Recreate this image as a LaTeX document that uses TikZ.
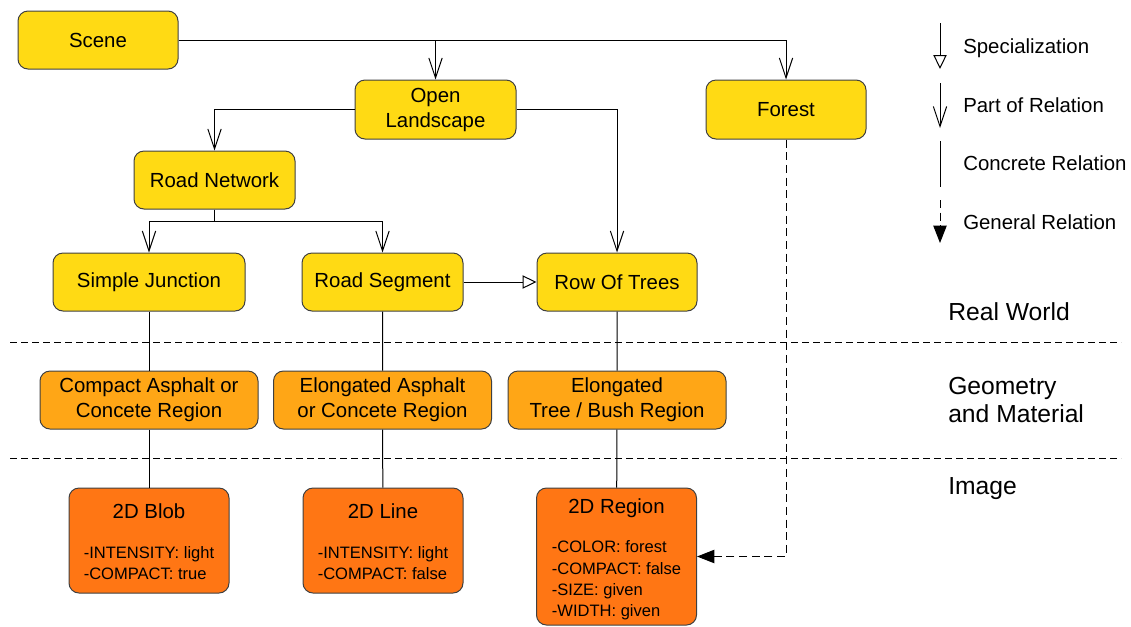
\documentclass[tikz,border=0pt]{standalone}
\usepackage{fontspec}
\setmainfont{Liberation Sans}
\usepackage{tikz}
\usetikzlibrary{arrows.meta}
\definecolor{realWorldColor}{RGB}{255,218,20}
\definecolor{geometryColor}{RGB}{255,166,22}
\definecolor{imageColor}{RGB}{255,118,20}
\newcommand{\boxFont}{\fontsize{15.3}{18.75}\selectfont}
\newcommand{\attrFont}{\fontsize{12.4}{15.8}\selectfont}
\newcommand{\layerFont}{\fontsize{18.5}{21}\selectfont}
\tikzstyle{diagram} = [x=0.75pt, y=-0.75pt]
\tikzstyle{boxStyle} = [draw=black!75, line width=.75pt, rounded corners=7.5pt, inner sep=0pt, align=center, font=\boxFont]
\tikzstyle{realWorldStyle} = [boxStyle, fill=realWorldColor, minimum height=43.5pt]
\tikzstyle{geometryStyle} = [boxStyle, fill=geometryColor, minimum width=163.5pt, minimum height=43.5pt]
\tikzstyle{imageStyle} = [boxStyle, fill=imageColor, minimum width=120pt, font=\attrFont]
\tikzstyle{relation} = [line width=.75pt]
\tikzstyle{partOfArrow} = [relation, -{Straight Barb[length=15pt, width=10pt]}]
\tikzstyle{specializationArrow} = [relation, -{Triangle[open, length=10.5pt, width=10pt]}]
\tikzstyle{concreteLine} = [relation]
\tikzstyle{generalArrow} = [relation, dash pattern=on 6pt off 3.5pt, -{Triangle[length=13pt, width=10pt]}]
\tikzstyle{layerLine} = [line width=.75pt, dash pattern=on 5.25pt off 3pt]
\tikzstyle{legendText} = [anchor=west, font=\boxFont, inner sep=0pt]
\tikzstyle{layerText} = [anchor=west, align=left, font=\layerFont, inner sep=0pt]
\newcommand{\imageText}[2]{\begin{tabular}{@{}l@{}}\multicolumn{1}{@{}c@{}}{\rule{0pt}{17pt}\boxFont #1}\\[14pt]#2\end{tabular}}

\begin{document}
\begin{tikzpicture}[diagram]
\useasboundingbox (0,0) rectangle (1131,626);
\draw[layerLine] (10,342) -- (1121,342);
\draw[layerLine] (10,458) -- (1121,458);
\node[realWorldStyle, minimum width=120pt] (scene) at (98,40) {Scene};
\node[realWorldStyle, minimum width=120.75pt, minimum height=44.25pt] (openLandscape) at (435.5,109.5) {Open\\Landscape};
\node[realWorldStyle, minimum width=120pt, minimum height=44.25pt] (forest) at (786,109.5) {Forest};
\node[realWorldStyle, minimum width=120.75pt] (roadNetwork) at (214.5,180) {Road Network};
\node[realWorldStyle, minimum width=144pt] (simpleJunction) at (149,282) {Simple Junction};
\node[realWorldStyle, minimum width=120.75pt] (roadSegment) at (382.5,282) {Road Segment};
\node[realWorldStyle, minimum width=120pt] (rowOfTrees) at (617,282) {Row Of Trees};
\node[geometryStyle] (compactRegion) at (149,400) {Compact Asphalt or\\Concete Region};
\node[geometryStyle] (elongatedRegion) at (382.5,400) {Elongated Asphalt\\or Concete Region};
\node[geometryStyle] (treeRegion) at (617,400) {Elongated\\Tree / Bush Region};
\node[imageStyle, minimum height=78.75pt] (blob) at (149,540.5) {\imageText{2D Blob}{-INTENSITY: light\\-COMPACT: true}};
\node[imageStyle, minimum height=78.75pt] (line) at (383,540.5) {\imageText{2D Line}{-INTENSITY: light\\-COMPACT: false}};
\node[imageStyle, minimum height=102.75pt] (region) at (616.5,556.5) {\imageText{2D Region}{-COLOR: forest\\-COMPACT: false\\-SIZE: given\\-WIDTH: given}};
\draw[partOfArrow] (scene.east) -| (forest.north);
\draw[partOfArrow] (scene.east) -| (openLandscape.north);
\draw[partOfArrow] (openLandscape.west) -| (roadNetwork.north);
\draw[partOfArrow] (openLandscape.east) -| (rowOfTrees.north);
\draw[partOfArrow] (roadNetwork.south) -- ++(0,12) -| (simpleJunction.north);
\draw[partOfArrow] (roadNetwork.south) -- ++(0,12) -| (roadSegment.north);
\draw[specializationArrow] (roadSegment.east) -- (rowOfTrees.west);
\draw[concreteLine] (simpleJunction) -- (compactRegion) -- (blob);
\draw[concreteLine] (roadSegment) -- (elongatedRegion) -- (line);
\draw[concreteLine] (rowOfTrees) -- (treeRegion) -- (region);
\draw[generalArrow] (forest.south) |- (region.east);
\coordinate (specTop) at (940,23);
\coordinate (specEnd) at (940,69);
\coordinate (partTop) at (940,83);
\coordinate (partEnd) at (940,128);
\coordinate (concreteTop) at (940,141);
\coordinate (concreteEnd) at (940,187);
\coordinate (generalTop) at (940,200);
\coordinate (generalEnd) at (940,243);
\draw[specializationArrow] (specTop) -- (specEnd);
\draw[partOfArrow] (partTop) -- (partEnd);
\draw[concreteLine] (concreteTop) -- (concreteEnd);
\draw[generalArrow] (generalTop) -- (generalEnd);
\node[legendText] (specLabel) at (963,48) {Specialization};
\node[legendText] (partLabel) at (963,105) {Part of Relation};
\node[legendText] (concreteLabel) at (963,163) {Concrete Relation};
\node[legendText] (generalLabel) at (963,222) {General Relation};
\node[layerText] (realWorldLabel) at (948,312) {Real World};
\node[layerText] (geometryLabel) at (948,400) {Geometry\\and Material};
\node[layerText] (imageLabel) at (948,489) {Image};
\end{tikzpicture}
\end{document}
